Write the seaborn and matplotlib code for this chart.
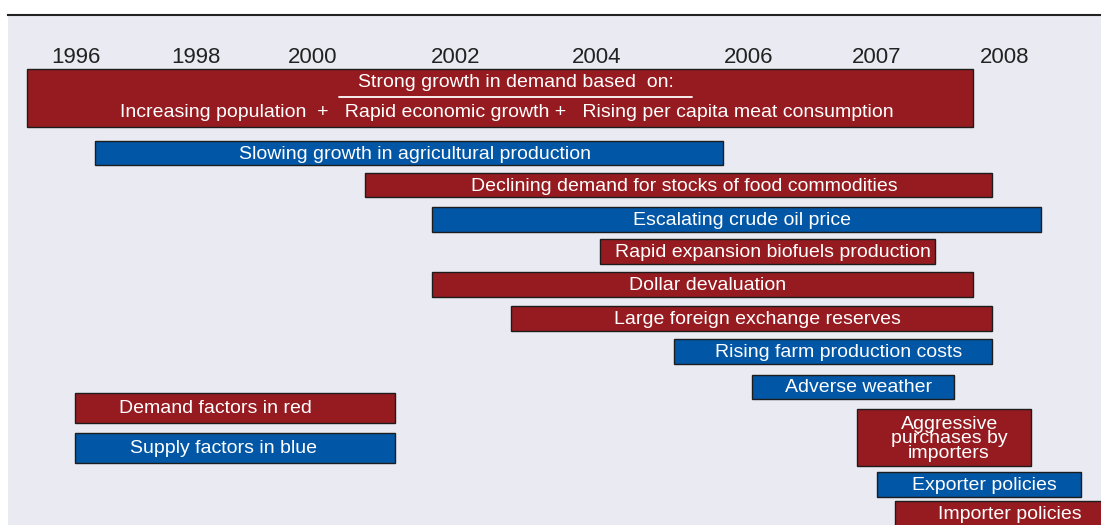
import matplotlib
matplotlib.use("Agg")
import matplotlib.pyplot as plt
import numpy as np
import seaborn as sns

# timeline labels along the top (unevenly spaced in the original)
tick_years = [1996, 1998, 2000, 2002, 2004, 2006, 2007, 2008]

# headline demand bar
headline_start, headline_end = 1995.18, 2007.75
headline_title = "Strong growth in demand based  on:"
headline_drivers = ("Increasing population  +   Rapid economic growth +   "
                    "Rising per capita meat consumption")

# individual factors
factors = [
    "Slowing growth in agricultural production",
    "Declining demand for stocks of food commodities",
    "Escalating crude oil price",
    "Rapid expansion biofuels production",
    "Dollar devaluation",
    "Large foreign exchange reserves",
    "Rising farm production costs",
    "Adverse weather",
    "Aggressive\npurchases by\nimporters",
    "Exporter policies",
    "Importer policies",
]
starts = [1996.32, 2000.73, 2001.66, 2004.04, 2001.66, 2002.78,
          2005.01, 2006.02, 2006.84, 2007.0, 2007.14]
ends = [2005.66, 2007.90, 2008.28, 2007.45, 2007.75, 2007.90,
        2007.90, 2007.60, 2008.20, 2008.59, 2008.85]
kinds = ["supply", "demand", "supply", "demand", "demand", "demand",
         "supply", "supply", "demand", "supply", "demand"]

legend_labels = ["Demand factors in red", "Supply factors in blue"]
legend_kinds = ["demand", "supply"]
legend_start, legend_end = 1995.98, 2001.15

# ---- layout (pixel rows from top of figure) ----
row_y = [153, 185, 219, 251.5, 284.5, 318, 351.5, 386.5, 437.5, 484.5, 513.5]
row_h = [24, 24, 25, 25, 25, 25, 25, 24, 57, 25, 25]
legend_y = [407.5, 447.5]
legend_dx = [-14, -8]
knot_pos = np.array([76, 196, 313, 456, 597, 749, 877, 1005], float)
knot_yr = np.array(tick_years, float)

colors = {"demand": "#961b20", "supply": "#0256a6"}


def piecewise(x, xs, ys):
    x = np.asarray(x, float)
    y = np.interp(x, xs, ys)
    y = np.where(x < xs[0], ys[0] + (x - xs[0]) * (ys[1] - ys[0]) / (xs[1] - xs[0]), y)
    y = np.where(x > xs[-1], ys[-1] + (x - xs[-1]) * (ys[-1] - ys[-2]) / (xs[-1] - xs[-2]), y)
    return y


def fwd(x):
    return piecewise(x, knot_yr, knot_pos)


def inv(p):
    return piecewise(p, knot_pos, knot_yr)


def mid(a, b):
    return float(inv((fwd(a) + fwd(b)) / 2))


sns.set_theme(style="dark")
plt.rcParams["font.family"] = ["Liberation Sans", "DejaVu Sans"]

fig = plt.figure(figsize=(11.01, 5.25), dpi=100)
ax = fig.add_axes([8 / 1101, 0, 1 - 8 / 1101, 510 / 525])
ax.set_facecolor("#eaeaf2")
ax.set_xscale("function", functions=(fwd, inv))
ax.set_xlim(float(inv(8)), float(inv(1101)))
ax.set_ylim(525, 15)

bar_kw = dict(edgecolor="#1c1c1c", linewidth=1.0)
txt_kw = dict(color="white", fontsize=14, ha="center", va="center",
              textcoords="offset points")

# headline
ax.barh(97.5, headline_end - headline_start, left=headline_start, height=58,
        color=colors["demand"], **bar_kw)
ax.annotate(headline_title, (inv(516), 81), xytext=(0, -1.2), **txt_kw)
ax.plot([inv(339), inv(692)], [97, 97], color="white", lw=1.3)
ax.annotate(headline_drivers, (mid(headline_start, headline_end), 111),
            xytext=(5, -0.8), **txt_kw)

# factor bars
for lab, s, e, k, y, h in zip(factors, starts, ends, kinds, row_y, row_h):
    ax.barh(y, e - s, left=s, height=h, color=colors[k], **bar_kw)
    ax.annotate(lab, (mid(s, e), y), xytext=(4, -1), linespacing=0.8, **txt_kw)

# legend boxes
for lab, k, y, dx in zip(legend_labels, legend_kinds, legend_y, legend_dx):
    ax.barh(y, legend_end - legend_start, left=legend_start, height=30,
            color=colors[k], **bar_kw)
    ax.annotate(lab, (mid(legend_start, legend_end), y), xytext=(dx, -1), **txt_kw)

ax.xaxis.tick_top()
ax.set_xticks(tick_years)
ax.set_xticklabels([str(t) for t in tick_years])
ax.tick_params(axis="x", top=False, pad=-44, labelsize=16, labelcolor="#222222")
ax.set_yticks([])
ax.minorticks_off()
for side in ["left", "right", "bottom"]:
    ax.spines[side].set_visible(False)
ax.spines["top"].set_visible(True)
ax.spines["top"].set_color("#222222")
ax.spines["top"].set_linewidth(1.5)

fig.savefig("out.png", dpi=100)
